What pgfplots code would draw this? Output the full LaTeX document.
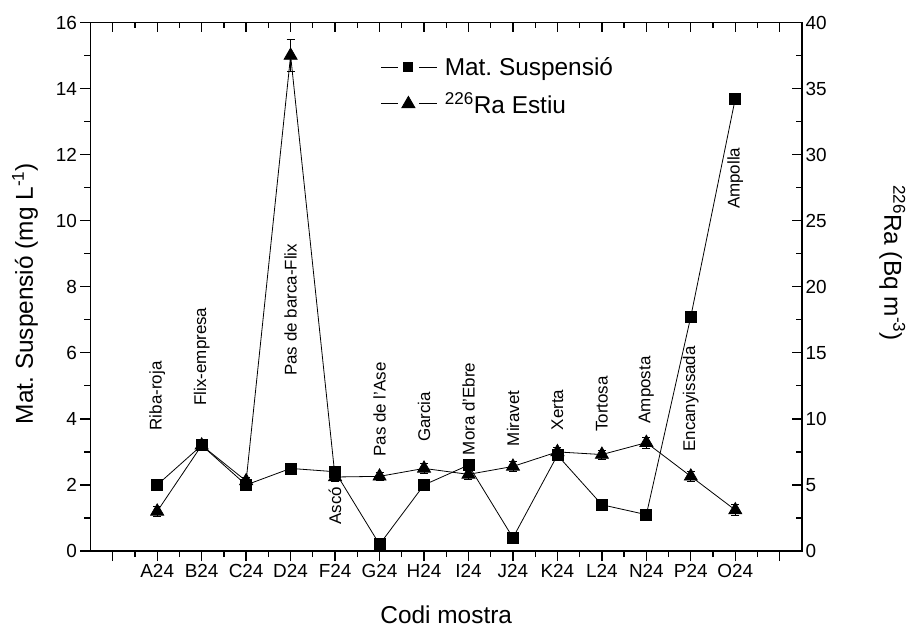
\documentclass[border=0pt]{standalone}
\usepackage{pgfplots}
\pgfplotsset{compat=1.18}
\usepackage{fontspec}
\setmainfont{Liberation Sans}
\frenchspacing

\pgfplotstableread{
x y
1 2.0
2 3.2
3 2.0
4 2.5
5 2.4
6 0.2
7 2.0
8 2.6
9 0.4
10 2.9
11 1.4
12 1.1
13 7.1
14 13.7
}\matsusp

\pgfplotstableread{
x y e
1 3.0 0.35
2 8.0 0.3
3 5.3 0.3
4 37.5 1.2
5 5.6 0.3
6 5.65 0.3
7 6.25 0.35
8 5.8 0.4
9 6.4 0.35
10 7.5 0.35
11 7.3 0.35
12 8.2 0.4
13 5.65 0.35
14 3.1 0.4
}\raestiu

\begin{document}
\begin{tikzpicture}
\path[use as bounding box] (0,0) rectangle (911bp,628bp);
\pgfplotsset{
  common/.style={
    scale only axis, width=711.5bp, height=528.5bp,
    at={(90.5bp,77bp)}, anchor=south west,
    xmin=-0.5, xmax=15.5, xtick={0,...,15}, minor x tick num=1,
    major tick length=10bp, minor tick length=6bp,
    axis line style={line width=1.5bp},
    tick style={line width=1.3bp, black},
    minor tick style={line width=1.3bp, black},
    tick label style={font=\fontsize{19}{22}\selectfont},
    label style={font=\fontsize{24.5}{28}\selectfont},
    /pgf/number format/assume math mode=true,
    clip=false,
  }
}
\begin{axis}[common,
  ymin=0, ymax=16, ytick={0,2,...,16}, minor y tick num=1,
  xtick pos=bottom, ytick pos=left, tick align=outside,
  xticklabels={{},A24,B24,C24,D24,F24,G24,H24,I24,J24,K24,L24,N24,P24,O24,{}},
  xlabel={Codi mostra},
  xlabel style={at={(axis description cs:0.5,-0.121)}, anchor=center},
  ylabel={Mat. Suspensió (mg L\textsuperscript{-1})},
  ylabel style={at={(axis description cs:-0.092,0.487)}, anchor=center},
]
\addplot[black, line width=0.8bp, mark=square*, mark size=5.5bp] table[x=x,y=y] {\matsusp};
\begin{scope}[every node/.style={rotate=90, anchor=west, inner sep=0pt, font=\fontsize{17}{20}\selectfont}]
\node at (axis cs:1,3.65) {Riba-roja};
\node at (axis cs:2,4.4) {Flix-empresa};
\node at (axis cs:4,5.3) {Pas de barca-Flix};
\node at (axis cs:5,0.8) {Ascó};
\node at (axis cs:6,2.85) {Pas de l'Ase};
\node at (axis cs:7,3.3) {Garcia};
\node at (axis cs:8,2.9) {Mora d'Ebre};
\node at (axis cs:9,3.17) {Miravet};
\node at (axis cs:10,3.65) {Xerta};
\node at (axis cs:11,3.6) {Tortosa};
\node at (axis cs:12,3.86) {Amposta};
\node at (axis cs:13,3.0) {Encanyissada};
\node at (axis cs:14,10.35) {Ampolla};
\end{scope}
\end{axis}
\begin{axis}[common,
  ymin=0, ymax=40, ytick={0,5,...,40}, minor y tick num=1,
  xtick pos=top, ytick pos=right, yticklabel pos=right, tick align=inside,
  xticklabels={},
  ylabel={\textsuperscript{226}Ra (Bq m\textsuperscript{-3})},
  ylabel style={at={(axis description cs:1.127,0.545)}, anchor=center, rotate=180},
  legend style={draw=none, fill=none, at={(0.408,0.9385)}, anchor=north west,
    font=\fontsize{24.5}{28}\selectfont, row sep=12bp, inner sep=0pt,
    nodes={inner sep=2bp},
    /tikz/every odd column/.append style={column sep=5bp}},
  legend cell align=left,
  legend image code/.code={
    \draw[#1, mark=none] (0bp,0bp) -- (17bp,0bp);
    \draw[#1, mark=none] (38bp,0bp) -- (56bp,0bp);
    \draw[#1, only marks] plot coordinates {(27bp,0bp)};
  },
]
\addlegendimage{black, line width=0.8bp, mark=square*, mark size=4.5bp}
\addlegendentry{Mat. Suspensió}
\addplot[black, line width=0.8bp, mark=triangle*, mark size=7.5bp,
  error bars/.cd, y dir=both, y explicit,
  error bar style={line width=0.8bp},
  error mark options={rotate=90, mark size=4bp, line width=0.8bp}]
  table[x=x, y=y, y error=e] {\raestiu};
\addlegendentry{\textsuperscript{226}Ra Estiu}
\end{axis}
\end{tikzpicture}
\end{document}
